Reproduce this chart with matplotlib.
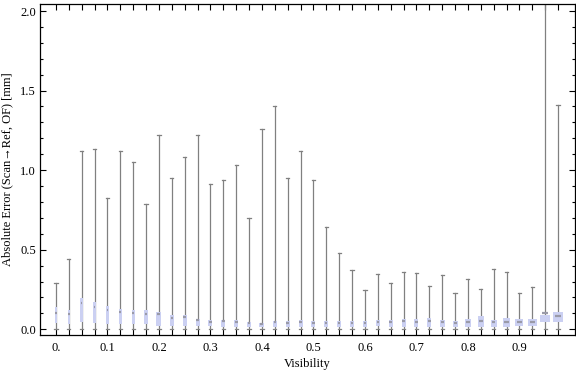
import numpy as np
import matplotlib
matplotlib.use("Agg")
import matplotlib.pyplot as plt
from matplotlib.ticker import MultipleLocator, FixedLocator

# box-whisker stats per visibility bin
visibility = [0.0, 0.025, 0.05, 0.075, 0.1, 0.125, 0.15, 0.175, 0.2, 0.225,
              0.25, 0.275, 0.3, 0.325, 0.35, 0.375, 0.4, 0.425, 0.45, 0.475,
              0.5, 0.525, 0.55, 0.575, 0.6, 0.625, 0.65, 0.675, 0.7, 0.725,
              0.75, 0.775, 0.8, 0.825, 0.85, 0.875, 0.9, 0.925, 0.95, 0.975]
whiskerHi = [0.29, 0.44, 1.12, 1.135, 0.825, 1.12, 1.05, 0.79, 1.22, 0.95,
             1.085, 1.22, 0.915, 0.94, 1.03, 0.70, 1.26, 1.40, 0.95, 1.12,
             0.94, 0.64, 0.48, 0.37, 0.245, 0.35, 0.29, 0.36, 0.355, 0.27,
             0.34, 0.23, 0.315, 0.25, 0.38, 0.36, 0.225, 0.265, 2.3, 1.41]
whiskerLo = [0.0, 0.0, 0.0, 0.0, 0.0, 0.0, 0.0, 0.0, 0.0, 0.0,
             0.0, 0.0, 0.0, 0.0, 0.0, 0.0, 0.0, 0.0, 0.0, 0.0,
             0.0, 0.0, 0.0, 0.0, 0.0, 0.0, 0.0, 0.0, 0.0, 0.0,
             0.0, 0.0, 0.0, 0.0, 0.0, 0.0, 0.0, 0.0, 0.0, 0.0]
q1 = [0.038, 0.03, 0.045, 0.042, 0.036, 0.03, 0.03, 0.03, 0.023, 0.023,
      0.023, 0.019, 0.019, 0.016, 0.016, 0.016, 0.016, 0.016, 0.016, 0.016,
      0.012, 0.012, 0.016, 0.016, 0.016, 0.019, 0.016, 0.016, 0.016, 0.016,
      0.016, 0.016, 0.016, 0.016, 0.016, 0.016, 0.02, 0.023, 0.044, 0.044]
q3 = [0.139, 0.12, 0.195, 0.17, 0.147, 0.128, 0.12, 0.12, 0.11, 0.092,
      0.088, 0.065, 0.057, 0.06, 0.057, 0.046, 0.042, 0.05, 0.052, 0.06,
      0.052, 0.05, 0.05, 0.05, 0.05, 0.057, 0.057, 0.063, 0.063, 0.069,
      0.057, 0.05, 0.063, 0.084, 0.057, 0.069, 0.065, 0.065, 0.09, 0.109]
medians = [0.10, 0.095, 0.165, 0.14, 0.12, 0.107, 0.103, 0.095, 0.098, 0.073,
           0.078, 0.059, 0.046, 0.05, 0.048, 0.038, 0.034, 0.048, 0.038, 0.048,
           0.04, 0.038, 0.038, 0.038, 0.04, 0.044, 0.048, 0.052, 0.048, 0.052,
           0.044, 0.04, 0.048, 0.054, 0.046, 0.046, 0.044, 0.044, 0.105, 0.086]

xTickLabels = ["0.", "0.1", "0.2", "0.3", "0.4", "0.5", "0.6", "0.7", "0.8", "0.9"]
yTickLabels = ["0.0", "0.5", "1.0", "1.5", "2.0"]

# box widths in pixels (boxes get wider toward high visibility)
boxWidthPx = [2.5, 2.5, 2.5, 2.5, 3, 3, 3, 3.5, 5, 4.3,
              4, 4, 4, 4, 4.5, 4.5, 5, 4, 4, 4,
              4, 4, 4, 4, 4, 4, 4, 4, 4, 4.3,
              5, 5, 5.7, 6, 6, 7, 8, 9, 10.7, 10]

plt.rcParams['font.family'] = ['Liberation Serif', 'DejaVu Serif']

fig = plt.figure(figsize=(5.76, 3.75), dpi=100)
ax = fig.add_axes([40/576, 40/375, 535/576, 331/375])

xmin, xmax = -0.031, 1.008
ax.set_xlim(xmin, xmax)
ax.set_ylim(-0.036, 2.044)
pxPerX = 535 / (xmax - xmin)

boxColor = "#cbd0f2"
whiskColor = "#808080"
capHalf = 1.6 / pxPerX

for i in range(len(visibility)):
    x = visibility[i]
    w = boxWidthPx[i] / pxPerX
    ax.plot([x, x], [whiskerLo[i], whiskerHi[i]], color=whiskColor, lw=0.9, zorder=2)
    ax.plot([x - capHalf, x + capHalf], [whiskerHi[i]] * 2, color=whiskColor, lw=0.9, zorder=2)
    ax.plot([x - capHalf, x + capHalf], [whiskerLo[i]] * 2, color=whiskColor, lw=0.9, zorder=2)
    ax.add_patch(plt.Rectangle((x - w / 2, q1[i]), w, q3[i] - q1[i],
                               facecolor=boxColor, edgecolor="none", zorder=3))
    ax.plot([x - w * 0.3, x + w * 0.3], [medians[i]] * 2, color="#9a9aa8",
            lw=1.6, zorder=4, solid_capstyle="butt")

# ticks: inward, on all sides, box positions on x
ax.xaxis.set_major_locator(FixedLocator(visibility))
ax.set_xticklabels([xTickLabels[i // 4] if i % 4 == 0 else "" for i in range(len(visibility))])
ax.yaxis.set_major_locator(FixedLocator([0.0, 0.5, 1.0, 1.5, 2.0]))
ax.set_yticklabels(yTickLabels)
ax.yaxis.set_minor_locator(MultipleLocator(0.1))
ax.tick_params(axis='both', which='both', direction='in', top=True, right=True,
               labelsize=9, width=0.8, color='black')
ax.tick_params(axis='x', which='major', length=4, pad=5)
ax.tick_params(axis='y', which='major', length=4, pad=3)
ax.tick_params(axis='y', which='minor', length=2.2)
for s in ax.spines.values():
    s.set_linewidth(0.9)

ax.set_xlabel("Visibility", fontsize=9, labelpad=3)
ax.set_ylabel("Absolute Error (Scan\u2192Ref, OF) [mm]", fontsize=9, labelpad=5)

plt.savefig("out.png", dpi=100)
plt.close()
